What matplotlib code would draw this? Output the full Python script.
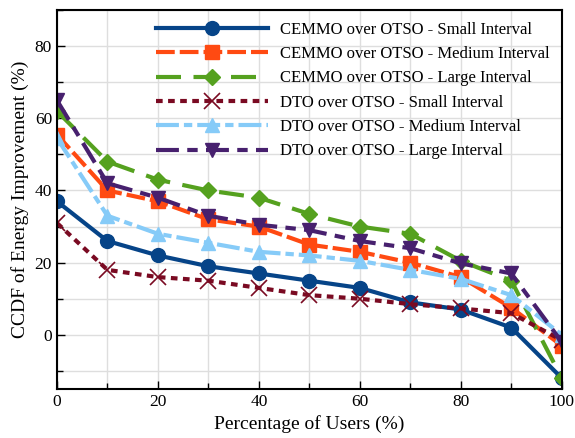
import numpy as np
import matplotlib.pyplot as plt
from matplotlib.ticker import MultipleLocator

plt.rcParams['font.family'] = ['Liberation Serif', 'DejaVu Serif']
plt.rcParams['mathtext.fontset'] = 'stix'

# ── Data ──────────────────────────────────────────────────────────────────────
users = [0, 10, 20, 30, 40, 50, 60, 70, 80, 90, 100]

cemmo_small  = [37, 26, 22, 19, 17, 15, 13, 9, 7, 2, -12]
cemmo_medium = [55.5, 40, 37, 32, 30, 25, 23, 20, 16, 7.5, -3]
cemmo_large  = [62, 48, 43, 40, 38, 33.5, 30, 28, 20.5, 15, -12]
dto_small    = [31, 18, 16, 15, 13, 11, 10, 8.5, 7.3, 6, -1.5]
dto_medium   = [54.5, 33, 28, 25.5, 23, 22, 20.5, 18, 15.5, 11, 0]
dto_large    = [65, 42, 38, 33, 30.5, 29, 26, 24, 19.8, 17, -2]

labels = [
    "CEMMO over OTSO - Small Interval",
    "CEMMO over OTSO - Medium Interval",
    "CEMMO over OTSO - Large Interval",
    "DTO over OTSO - Small Interval",
    "DTO over OTSO - Medium Interval",
    "DTO over OTSO - Large Interval",
]

# ── Styles ────────────────────────────────────────────────────────────────────
styles = [
    dict(color='#064488', marker='o', ls='-'),
    dict(color='#ff4a12', marker='s', ls=(0, (4.5, 1.2))),
    dict(color='#55a11f', marker='D', ls=(0, (6, 3)), ms=8),
    dict(color='#7a0a22', marker='x', ls=(0, (1.6, 1.3)), mew=1.2, ms=11),
    dict(color='#86cbf8', marker='^', ls=(0, (5.5, 1.2, 2, 1.2))),
    dict(color='#47206e', marker='v', ls=(0, (5.5, 2, 2.5, 2))),
]
series = [cemmo_small, cemmo_medium, cemmo_large, dto_small, dto_medium, dto_large]

fig = plt.figure(figsize=(5.75, 4.38), dpi=100)
ax = fig.add_axes([0.099, 0.112, 0.878, 0.865])

for vals, st, lab in zip(series, styles, labels):
    st = dict(st)
    ms = st.pop('ms', 10)
    mew = st.pop('mew', 1)
    ax.plot(users, vals, lw=3, ms=ms, mew=mew, label=lab,
            color=st['color'], marker=st['marker'], linestyle=st['ls'])

ax.set_xlim(0, 100)
ax.set_ylim(-15, 90)
ax.xaxis.set_major_locator(MultipleLocator(20))
ax.xaxis.set_minor_locator(MultipleLocator(10))
ax.yaxis.set_major_locator(MultipleLocator(20))
ax.yaxis.set_minor_locator(MultipleLocator(10))
ax.tick_params(which='both', direction='in', labelsize=12.5)
ax.tick_params(which='major', length=6, width=1)
ax.tick_params(which='minor', length=4, width=1)
ax.grid(True, which='both', color='#dedede', lw=1)
ax.set_axisbelow(True)
for sp in ax.spines.values():
    sp.set_linewidth(1.5)

ax.set_xlabel('Percentage of Users (%)', fontsize=14)
ax.set_ylabel('CCDF of Energy Improvement (%)', fontsize=14)

ax.legend(loc='upper right', frameon=False, fontsize=12, handlelength=6.7,
          labelspacing=0.5, borderaxespad=0.3, handletextpad=0.75)

fig.savefig('out.png', dpi=100)
